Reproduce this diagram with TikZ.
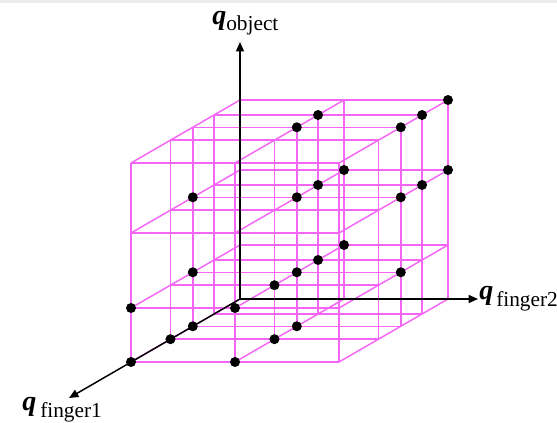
\documentclass[tikz,border=0pt]{standalone}
\usepackage{fontspec}
\setmainfont{Liberation Serif}
\usetikzlibrary{arrows.meta}
\definecolor{gridpink}{RGB}{246,102,246}
\definecolor{topgray}{RGB}{235,235,235}
\tikzset{
  gridline/.style={draw=gridpink, line width=1.1pt},
  axisline/.style={draw=black, line width=1.1pt, -{Triangle[length=7pt,width=6pt]}},
  qlabel/.style={anchor=base west, inner sep=0pt, font=\fontsize{21}{23}\selectfont\bfseries\itshape},
  sublabel/.style={anchor=base west, inner sep=0pt, font=\fontsize{16}{18}\selectfont},
  dotmark/.style={fill=black}
}
\begin{document}
\begin{tikzpicture}[x=0.75pt, y=-0.75pt]
\useasboundingbox (0,0) rectangle (557,423);
\fill[topgray] (0,0) rectangle (557,3);
% grid: lines along x
\foreach \yy in {0,54,129,199}{
  \foreach \dd in {0,0.238,0.433,0.638,1}{
    \draw[gridline] ({240-109*\dd},{299-\yy+63*\dd}) -- ++(208,0);
  }
}
% grid: lines along y
\foreach \xx in {0,104,208}{
  \foreach \dd in {0,0.238,0.433,0.638,1}{
    \draw[gridline] ({240+\xx-109*\dd},{299+63*\dd}) -- ++(0,-199);
  }
}
% grid: lines along depth
\foreach \xx in {0,104,208}{
  \foreach \yy in {0,54,129,199}{
    \draw[gridline] ({240+\xx},{299-\yy}) -- ++(-109,63);
  }
}
% axes
\coordinate (O) at (240,299);
\coordinate (Aobj) at (240,42);
\coordinate (Af2) at (478,299);
\coordinate (Af1) at (69,398);
\draw[axisline] (O) -- (Aobj);
\draw[axisline] (O) -- (Af2);
\draw[axisline] (O) -- (Af1);
% dots
\foreach \xx/\yy/\dd in {
  208/199/0, 208/199/0.238, 104/199/0.238, 104/199/0.433, 208/199/0.433,
  104/129/0, 208/129/0, 104/129/0.238, 208/129/0.238, 104/129/0.433, 208/129/0.433, 0/129/0.433,
  104/54/0, 104/54/0.238, 104/54/0.433, 208/54/0.433, 0/54/0.433, 0/54/1, 104/54/1, 104/54/0.638,
  0/0/0.433, 104/0/0.433, 0/0/0.638, 104/0/0.638, 0/0/1, 104/0/1}{
  \fill[dotmark] ({240+\xx-109*\dd},{299-\yy+63*\dd}) circle (5);
}
% labels
\node[qlabel] (qf1) at (22,411) {q};
\node[sublabel] (sf1) at (40,418) {finger1};
\node[qlabel] (qobj) at (212,25) {q};
\node[sublabel] (sobj) at (226,31) {object};
\node[qlabel] (qf2) at (479,300) {q};
\node[sublabel] (sf2) at (496,307) {finger2};
\end{tikzpicture}
\end{document}
